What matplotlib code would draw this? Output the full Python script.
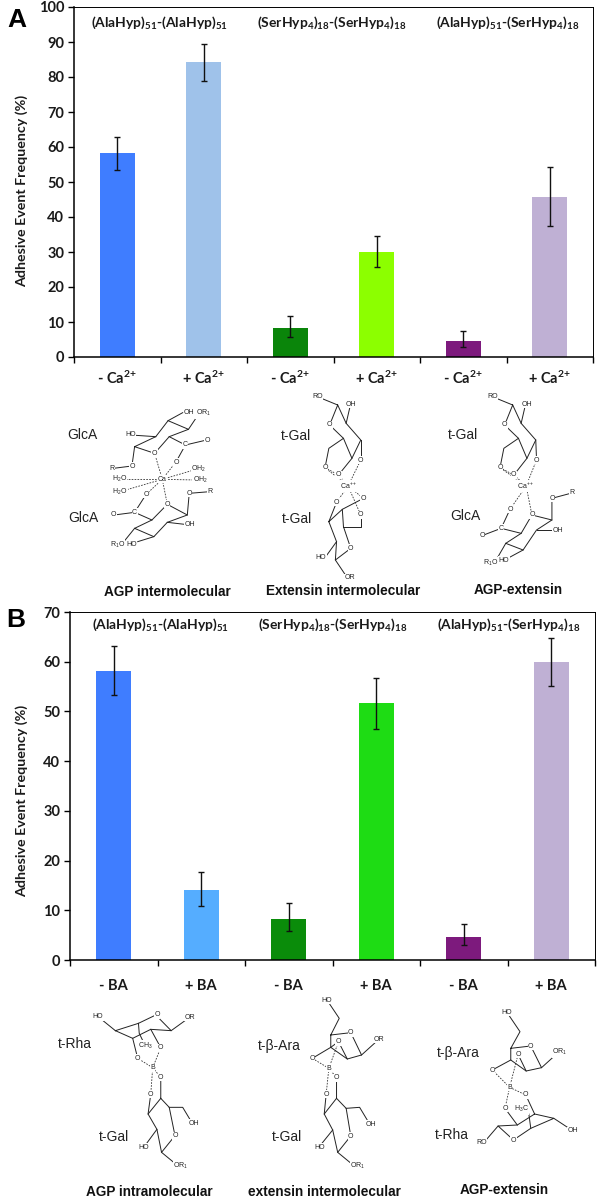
from matplotlib import pyplot as plt

plt.rcParams['font.family'] = ['Lato', 'DejaVu Sans']
plt.rcParams['mathtext.default'] = 'regular'

W, H = 601, 1201

# panel A: calcium
labels_a = ['- Ca$^{2{+}}$', '+ Ca$^{2{+}}$'] * 3
values_a = [58.2, 84.4, 8.2, 30.0, 4.7, 45.6]
low_a = [53.3, 78.8, 5.8, 25.6, 3.0, 37.3]
high_a = [63.0, 89.4, 11.6, 34.7, 7.4, 54.4]
colors_a = ['#3F7DFF', '#9FC2EA', '#0A850A', '#8CFF00', '#7D1A7D', '#BFB0D4']

# panel B: boric acid
labels_b = ['- BA', '+ BA'] * 3
values_b = [58.2, 14.0, 8.2, 51.6, 4.7, 60.0]
low_b = [53.3, 10.9, 5.8, 46.5, 3.0, 55.2]
high_b = [63.2, 17.8, 11.5, 56.7, 7.3, 64.7]
colors_b = ['#3F7DFF', '#55ADFF', '#0A8C0A', '#1EDC14', '#7D1A7D', '#BFB0D4']

pair_titles = ['(AlaHyp)$_{51}$-(AlaHyp)$_{51}$',
               '(SerHyp$_{4}$)$_{18}$-(SerHyp$_{4}$)$_{18}$',
               '(AlaHyp)$_{51}$-(SerHyp$_{4}$)$_{18}$']


def bar_panel(fig, box, labels, values, low, high, colors, ymax, step, pad, ylab_pos):
    left, top, right, bottom = box
    ax = fig.add_axes([left / W, 1 - bottom / H, (right - left) / W, (bottom - top) / H])
    xs = [i + 0.5 for i in range(len(values))]
    yerr = [[v - l for v, l in zip(values, low)], [h - v for v, h in zip(values, high)]]
    ax.bar(xs, values, width=0.4, color=colors)
    ax.errorbar(xs, values, yerr=yerr, fmt='none', ecolor='#111111', elinewidth=1, capsize=2.5, capthick=1)
    ax.set_xlim(0, 6)
    ax.set_ylim(0, ymax)
    ax.set_yticks(range(0, ymax + 1, step))
    ax.set_xticks(range(7))
    ax.set_xticklabels([])
    ax.set_xticks(xs, minor=True)
    ax.set_xticklabels(labels, minor=True, fontsize=10.5, fontweight='bold', color='#1a1a1a')
    ax.tick_params(axis='x', which='minor', length=0, pad=pad)
    ax.tick_params(axis='x', which='major', length=4, width=1, direction='out')
    ax.tick_params(axis='y', length=4, width=1, labelsize=10.5, pad=3, labelcolor='#1a1a1a')
    for t in ax.get_yticklabels():
        t.set_fontweight('bold')
    ax.set_ylabel('Adhesive Event Frequency (%)', fontsize=10.3, fontweight='bold', color='#1a1a1a')
    ax.yaxis.set_label_coords(*ylab_pos)
    for side in ['left', 'bottom']:
        ax.spines[side].set_linewidth(1.1)
    for side in ['top', 'right']:
        ax.spines[side].set_linewidth(0.7)
    return ax


fig = plt.figure(figsize=(W / 100, H / 100), dpi=100, facecolor='white')
bar_panel(fig, (74, 7, 593, 357), labels_a, values_a, low_a, high_a, colors_a, 100, 10, 9, (-0.089, 0.474))
bar_panel(fig, (70, 612, 595, 960), labels_b, values_b, low_b, high_b, colors_b, 70, 10, 14, (-0.08, 0.457))

# overlay in picture pixels, for the letters and the drawn structures
ov = fig.add_axes([0, 0, 1, 1], facecolor='none')
ov.set_xlim(0, W)
ov.set_ylim(H, 0)
ov.axis('off')

for x, y, t in [(160, 23, pair_titles[0]), (331.5, 23, pair_titles[1]), (508, 23, pair_titles[2]),
                (161, 625, pair_titles[0]), (333, 625, pair_titles[1]), (508.5, 625, pair_titles[2])]:
    ov.text(x, y, t, ha='center', va='center', fontsize=10, fontweight='bold', color='#1a1a1a')

ov.text(7, 20, 'A', ha='left', va='center', fontsize=19, fontweight='bold', family='Liberation Sans')
ov.text(6, 620, 'B', ha='left', va='center', fontsize=19, fontweight='bold', family='Liberation Sans')


def structure(y0, bonds, dashes, atoms, names, caption):
    # coordinates below are measured on zoomed crops: x is 2.6x, y is 3x
    px = lambda p: (p[0] / 2.6, y0 + p[1] / 3)
    for a, b in dashes:
        (x1, y1), (x2, y2) = px(a), px(b)
        ov.plot([x1, x2], [y1, y2], color='#333333', lw=0.6, ls=(0, (2, 1.5)))
    for line in bonds:
        pts = [px(p) for p in line]
        ov.plot([p[0] for p in pts], [p[1] for p in pts], color='#222222', lw=0.7)
    for x, y, t in atoms:
        xx, yy = px((x, y))
        ov.text(xx, yy, t, ha='center', va='center', fontsize=5, color='#222222', family='Liberation Sans',
                bbox=dict(facecolor='white', edgecolor='none', pad=0.3))
    for x, y, t in names:
        xx, yy = px((x, y))
        ov.text(xx, yy, t, ha='center', va='center', fontsize=10, color='#222222', family='Liberation Sans')
    x, y, t = caption
    xx, yy = px((x, y))
    ov.text(xx, yy, t, ha='center', va='center', fontsize=9.8, fontweight='bold', color='#111111', family='Liberation Sans')


# AGP intermolecular
structure(390,
          [[(350, 170), (402, 190), (440, 140), (490, 118), (437, 92), (405, 140), (350, 170)],
           [(340, 135), (405, 140)], [(437, 92), (475, 68)], [(490, 118), (515, 75)],
           [(440, 140), (482, 165), (530, 152)], [(482, 165), (458, 215)],
           [(350, 170), (343, 228), (295, 235)],
           [(435, 343), (395, 390), (350, 415), (400, 440), (435, 397), (487, 375), (435, 343)],
           [(380, 313), (350, 367), (297, 375)], [(350, 367), (395, 390)],
           [(487, 375), (492, 310), (545, 305)], [(435, 397), (480, 403)],
           [(350, 415), (322, 455)], [(400, 440), (358, 455)]],
          [[(422, 268), (402, 190)], [(422, 268), (458, 215)], [(422, 268), (510, 238)], [(422, 268), (510, 270)],
           [(422, 268), (310, 268)], [(422, 268), (312, 305)], [(422, 268), (380, 313)], [(422, 268), (435, 343)]],
          [(492, 68, 'OH'), (528, 70, 'OR$_1$'), (340, 135, 'HO'), (538, 152, 'O'), (482, 165, 'C'), (402, 190, 'O'),
           (458, 217, 'O'), (343, 228, 'O'), (290, 236, 'R'), (516, 238, 'OH$_2$'), (520, 270, 'OH$_2$'),
           (310, 268, 'H$_2$O'), (312, 305, 'H$_2$O'), (422, 268, 'Ca'), (380, 313, 'O'), (435, 343, 'O'),
           (492, 310, 'O'), (547, 305, 'R'), (295, 375, 'O'), (350, 367, 'C'), (493, 403, 'OH'),
           (305, 465, 'R$_1$O'), (342, 462, 'HO')],
          [(215, 135, 'GlcA'), (217, 385, 'GlcA')], (434, 605, 'AGP intermolecular'))

# Extensin intermolecular
structure(390,
          [[(825, 20), (878, 45), (857, 105), (893, 145), (915, 205), (938, 150), (900, 100), (878, 45)],
           [(900, 100), (910, 50)], [(893, 145), (855, 175), (845, 233)], [(915, 205), (880, 255)], [(938, 150), (938, 210)],
           [(875, 337), (855, 395), (875, 455), (872, 510), (912, 475), (893, 410), (890, 358), (855, 395)],
           [(890, 358), (945, 325)], [(893, 410), (938, 410), (938, 375)], [(875, 455), (850, 495)], [(872, 510), (897, 553)]],
          [[(905, 288), (845, 233)], [(905, 288), (880, 255)], [(905, 288), (938, 210)], [(905, 288), (875, 337)],
           [(905, 288), (945, 325)], [(905, 288), (938, 375)], [(845, 233), (880, 255)]],
          [(825, 20, 'RO'), (913, 43, 'OH'), (857, 105, 'O'), (938, 210, 'O'), (845, 233, 'O'), (880, 255, 'O'),
           (907, 288, 'Ca$^{++}$'), (875, 337, 'O'), (945, 325, 'O'), (938, 375, 'O'), (912, 475, 'O'),
           (835, 503, 'HO'), (910, 563, 'OR')],
          [(770, 138, 't-Gal'), (773, 387, 't-Gal')], (893, 603, 'Extensin intermolecular'))

# AGP-extensin
structure(390,
          [[(1280, 20), (1333, 45), (1312, 105), (1348, 145), (1370, 205), (1393, 150), (1355, 100), (1333, 45)],
           [(1355, 100), (1365, 50)], [(1348, 145), (1310, 175), (1300, 233)], [(1370, 205), (1336, 255)], [(1393, 150), (1395, 210)],
           [(1383, 375), (1435, 390), (1395, 420), (1360, 480), (1315, 460), (1355, 430), (1383, 375)],
           [(1326, 358), (1303, 415), (1253, 437)], [(1303, 415), (1355, 430)],
           [(1435, 390), (1435, 325), (1490, 308)], [(1395, 420), (1437, 420)],
           [(1315, 460), (1290, 510)], [(1360, 480), (1320, 505)]],
          [[(1368, 288), (1300, 233)], [(1368, 288), (1336, 255)], [(1368, 288), (1395, 210)], [(1368, 288), (1326, 358)],
           [(1368, 288), (1383, 375)], [(1300, 233), (1336, 255)]],
          [(1280, 20, 'RO'), (1370, 43, 'OH'), (1312, 105, 'O'), (1395, 210, 'O'), (1300, 233, 'O'), (1336, 255, 'O'),
           (1368, 288, 'Ca$^{++}$'), (1326, 358, 'O'), (1383, 375, 'O'), (1435, 325, 'O'), (1486, 308, 'R'),
           (1253, 437, 'O'), (1303, 415, 'C'), (1450, 420, 'OH'), (1275, 518, 'R$_1$O'), (1310, 510, 'HO')],
          [(1204, 135, 't-Gal'), (1210, 378, 'GlcA')], (1348, 601, 'AGP-extensin'))

# AGP intramolecular
structure(990,
          [[(300, 122), (360, 100), (405, 75), (445, 122), (392, 118), (345, 145), (300, 122)],
           [(255, 80), (300, 122)], [(445, 122), (493, 82)], [(360, 100), (362, 130), (378, 168)],
           [(345, 145), (358, 205)], [(392, 118), (418, 173)],
           [(418, 262), (418, 325), (385, 372), (408, 418), (420, 487), (455, 437), (440, 352), (418, 325)],
           [(392, 312), (385, 372)], [(440, 352), (475, 352), (500, 400)], [(408, 418), (375, 470)], [(420, 487), (460, 525)]],
          [[(397, 233), (358, 205)], [(397, 233), (418, 173)], [(397, 233), (392, 312)], [(397, 233), (418, 262)]],
          [(255, 80, 'HO'), (408, 75, 'O'), (493, 82, 'OR'), (378, 168, 'CH$_3$'), (358, 205, 'O'), (418, 173, 'O'),
           (397, 233, 'B'), (418, 262, 'O'), (392, 312, 'O'), (505, 400, 'OH'), (455, 437, 'O'), (373, 472, 'HO'),
           (470, 527, 'OR$_1$')],
          [(195, 162, 't-Rha'), (297, 442, 't-Gal')], (388, 605, 'AGP intramolecular'))

# extensin intermolecular
structure(990,
          [[(850, 30), (882, 85), (860, 135), (912, 128), (940, 195), (903, 207), (860, 172), (860, 135)],
           [(940, 195), (985, 148)], [(880, 155), (903, 207)], [(880, 155), (860, 172)], [(812, 205), (860, 172)],
           [(875, 263), (875, 325), (843, 372), (865, 420), (878, 487), (912, 438), (900, 355), (875, 325)],
           [(848, 313), (843, 372)], [(900, 355), (935, 352), (960, 400)], [(865, 420), (830, 470)], [(878, 487), (918, 525)]],
          [[(855, 235), (812, 205)], [(855, 235), (880, 155)], [(855, 235), (848, 313)], [(855, 235), (875, 263)]],
          [(850, 30, 'HO'), (912, 128, 'O'), (985, 148, 'OR'), (880, 155, 'O'), (812, 205, 'O'), (855, 235, 'B'),
           (875, 263, 'O'), (848, 313, 'O'), (965, 402, 'OH'), (912, 438, 'O'), (830, 472, 'HO'), (930, 528, 'OR$_1$')],
          [(727, 167, 't-β-Ara'), (745, 442, 't-Gal')], (843, 605, 'extensin intermolecular'))

# AGP-extensin, boron
structure(990,
          [[(1318, 67), (1352, 125), (1328, 175), (1380, 168), (1408, 233), (1368, 243), (1328, 210), (1328, 175)],
           [(1408, 233), (1452, 187)], [(1347, 193), (1368, 243)], [(1280, 240), (1328, 210)],
           [(1367, 315), (1390, 372), (1345, 405), (1295, 408), (1335, 450), (1380, 415), (1440, 385), (1390, 372)],
           [(1313, 355), (1345, 405)], [(1380, 415), (1375, 372)], [(1295, 408), (1260, 455)], [(1440, 385), (1490, 423)]],
          [[(1325, 292), (1280, 240)], [(1325, 292), (1347, 193)], [(1325, 292), (1313, 355)], [(1325, 292), (1367, 315)]],
          [(1318, 67, 'HO'), (1380, 168, 'O'), (1455, 187, 'OR$_1$'), (1347, 193, 'O'), (1280, 240, 'O'), (1325, 292, 'B'),
           (1367, 315, 'O'), (1313, 355, 'O'), (1355, 358, 'H$_3$C'), (1335, 450, 'O'), (1252, 457, 'RO'), (1490, 423, 'OH')],
          [(1192, 190, 't-β-Ara'), (1175, 435, 't-Rha')], (1311, 600, 'AGP-extensin'))

plt.savefig('out.png', dpi=100)
